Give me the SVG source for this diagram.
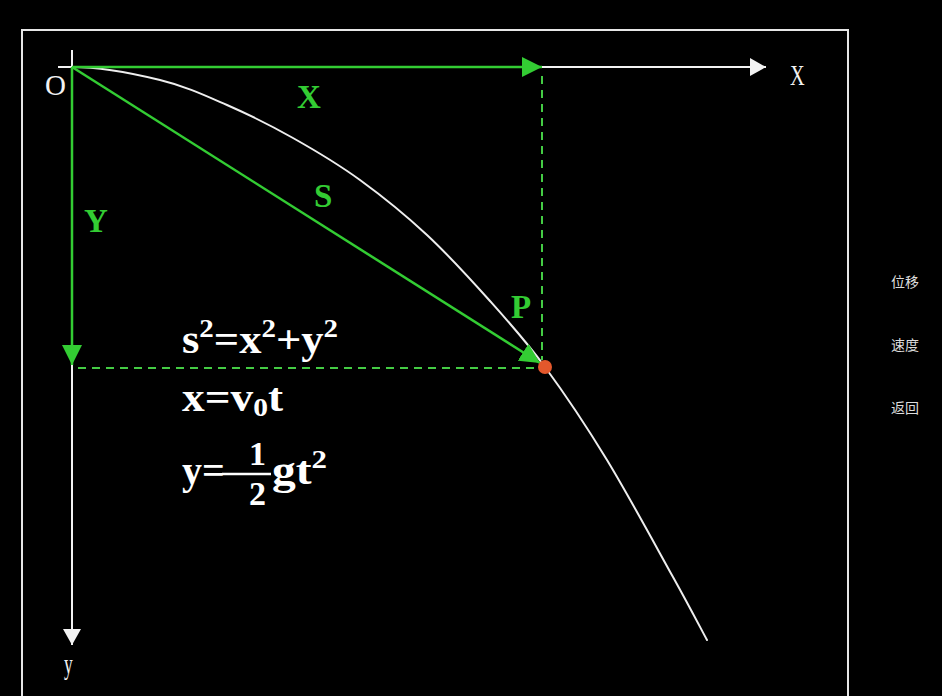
<svg xmlns="http://www.w3.org/2000/svg" width="942" height="696" viewBox="0 0 942 696">
<style>
.axis{stroke:#f2f2f2;stroke-width:2;fill:none}
.g{stroke:#33cc33;stroke-width:2.5;fill:none}
.gd{stroke:#44cc44;stroke-width:2;fill:none;stroke-dasharray:8 6}
.lbl{font-family:"Liberation Serif","Times New Roman",serif;font-weight:bold;fill:#33cc33;font-size:33px}
.ax{font-family:"Liberation Serif","Times New Roman",serif;fill:#f2f2f2;font-size:29px}
.f{font-family:"Liberation Serif","Times New Roman",serif;font-weight:bold;fill:#ffffff;font-size:40px}
.sup{font-size:26px}
.frac{font-size:34px}
.cn{font-family:"Noto Sans CJK SC",sans-serif;fill:#dddddd;font-size:14px}
</style>
<defs>
<marker id="ga" markerUnits="userSpaceOnUse" markerWidth="20" markerHeight="20" refX="20" refY="10" orient="auto">
<path d="M0,0 L20,10 L0,20 Z" fill="#33cc33"/>
</marker>
<marker id="wa" markerUnits="userSpaceOnUse" markerWidth="16" markerHeight="18" refX="16" refY="9" orient="auto">
<path d="M0,0 L16,9 L0,18 Z" fill="#f2f2f2"/>
</marker>
</defs>
<rect x="0" y="0" width="942" height="696" fill="#000000"/>
<path d="M22,700 L22,30 L848,30 L848,700" stroke="#e6e6e6" stroke-width="2" fill="none"/>

<g id="axes">
<line class="axis" x1="58" y1="67" x2="766" y2="67" marker-end="url(#wa)"/>
<line class="axis" x1="72" y1="50" x2="72" y2="645" marker-end="url(#wa)"/>
<text class="ax" x="45" y="95">O</text>
<text class="ax" transform="translate(790,85) scale(0.7,1)" x="0" y="0">X</text>
<text class="ax" transform="translate(64,674) scale(0.6,1)" x="0" y="0" font-size="38">y</text>
</g>

<g id="trajectory">
<path d="M72,67 C100,67 134.2,73.7 160,80 C185.8,86.3 204.8,95.3 227,105 C249.2,114.7 270.8,125.5 293,138 C315.2,150.5 337.7,163.8 360,180 C382.3,196.2 405.3,214.8 427,235 C448.7,255.2 470.3,279 490,301 C509.7,323 525.5,340.5 545,367 C564.5,393.5 585.7,425 607,460 C628.3,495 656.3,547 673,577 C689.7,607 701.3,629.5 707,640" stroke="#eeeeee" stroke-width="2" fill="none" stroke-linecap="round"/>
</g>

<g id="connectors">
<line class="g" x1="72" y1="67" x2="542" y2="67" marker-end="url(#ga)"/>
<line class="g" x1="72" y1="67" x2="72" y2="365" marker-end="url(#ga)"/>
<line class="g" x1="72" y1="67" x2="540" y2="363" marker-end="url(#ga)"/>
<line class="gd" x1="542" y1="76" x2="542" y2="360"/>
<line class="gd" x1="78" y1="368" x2="538" y2="368"/>
</g>

<g id="point-P">
<circle cx="545" cy="367" r="7" fill="#e4582c"/>
<text class="lbl" x="511" y="318">P</text>
</g>

<g id="label-X"><text class="lbl" x="297" y="108">X</text></g>
<g id="label-S"><text class="lbl" x="314" y="207">S</text></g>
<g id="label-Y"><text class="lbl" x="84" y="232">Y</text></g>

<g id="formulas">
<text class="f" x="182" y="353" textLength="156" lengthAdjust="spacingAndGlyphs">s<tspan class="sup" dy="-16">2</tspan><tspan dy="16">=x</tspan><tspan class="sup" dy="-16">2</tspan><tspan dy="16">+y</tspan><tspan class="sup" dy="-16">2</tspan></text>
<text class="f" x="182" y="411" textLength="101" lengthAdjust="spacingAndGlyphs">x=v<tspan class="sup" dy="5">0</tspan><tspan dy="-5">t</tspan></text>
<text class="f" x="182" y="484">y=</text>
<line x1="222" y1="474" x2="271" y2="474" stroke="#ffffff" stroke-width="2.5"/>
<text class="f frac" x="249" y="465">1</text>
<text class="f frac" x="249" y="505">2</text>
<text class="f" x="272" y="484" textLength="55" lengthAdjust="spacingAndGlyphs">gt<tspan class="sup" dy="-16">2</tspan></text>
</g>

<g id="menu">
<text class="cn" x="891" y="287">位移</text>
<text class="cn" x="891" y="350">速度</text>
<text class="cn" x="891" y="413">返回</text>
</g>
</svg>
